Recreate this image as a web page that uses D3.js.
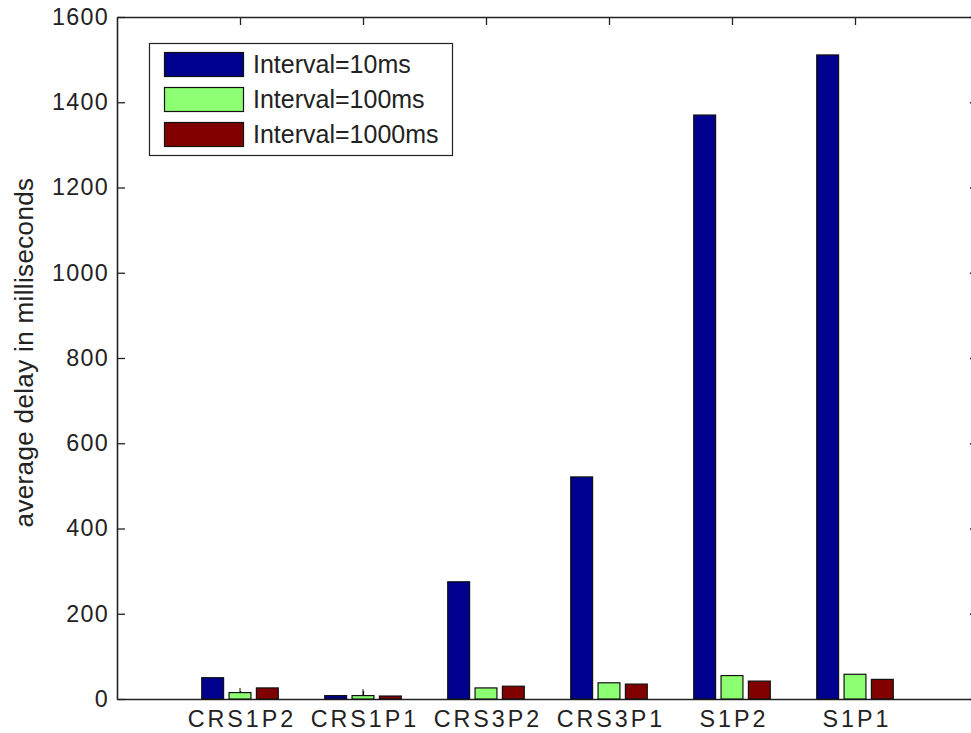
<!DOCTYPE html>
<html>
<head>
<meta charset="utf-8">
<script src="https://cdn.jsdelivr.net/npm/d3@7"></script>
<style>
  html, body { margin: 0; padding: 0; background: #fff; overflow: hidden; }
  svg { display: block; }
  text { font-family: "Liberation Sans", Arial, Helvetica, sans-serif; fill: #222; }
</style>
</head>
<body>
<svg id="chart" width="971" height="733"></svg>
<script>
// ---- data ----
const categories = ["CRS1P2", "CRS1P1", "CRS3P2", "CRS3P1", "S1P2", "S1P1"];
const seriesNames = ["Interval=10ms", "Interval=100ms", "Interval=1000ms"];
const interval10ms = [50, 8, 275, 521, 1370, 1511];
const interval100ms = [15, 8, 26, 38, 55, 58];
const interval1000ms = [26, 7, 30, 35, 42, 46];
const interval100msErrTop = [26, 23, null, null, null, null];
const yTicks = [0, 200, 400, 600, 800, 1000, 1200, 1400, 1600];
const seriesColors = ["#00008f", "#8cff73", "#800000"];
const yLabel = "average delay in milliseconds";

const seriesValues = [interval10ms, interval100ms, interval1000ms];

// ---- layout ----
const svg = d3.select("#chart");
const mLeft = 117, mRight = 978, mTop = 17, mBottom = 699;

const x = d3.scaleLinear().domain([0, categories.length + 1]).range([mLeft, mRight]);
const y = d3.scaleLinear().domain([0, 1600]).range([mBottom, mTop]);

const step = 2 / 9;          // group offset per series (axis units)
const barW = 0.8 * step;     // bar width (axis units)

// axes (drawn first so bars cover the inward ticks at the bottom)
const tickIdx = categories.map((c, i) => i + 1);
const xAxisBottom = d3.axisBottom(x).tickValues(tickIdx)
  .tickFormat((d) => categories[d - 1]).tickSizeInner(-8).tickSizeOuter(0).tickPadding(11);
const xAxisTop = d3.axisTop(x).tickValues(tickIdx).tickFormat("").tickSizeInner(-8).tickSizeOuter(0);
const yAxisLeft = d3.axisLeft(y).tickValues(yTicks).tickFormat(d3.format("d"))
  .tickSizeInner(-8).tickSizeOuter(0).tickPadding(8);
const yAxisRight = d3.axisRight(y).tickValues(yTicks).tickFormat("").tickSizeInner(-8).tickSizeOuter(0);

function styleAxis(g) {
  g.select(".domain").attr("stroke", "#222").attr("stroke-width", 1.6);
  g.selectAll(".tick line").attr("stroke", "#222").attr("stroke-width", 1.3);
  g.selectAll(".tick text").attr("fill", "#222")
    .attr("font-family", "\"Liberation Sans\", Arial, sans-serif");
}

svg.append("g").attr("transform", `translate(0,${mBottom})`).call(xAxisBottom).call(styleAxis)
  .selectAll(".tick text").attr("font-size", 23.3).attr("letter-spacing", 3).attr("dx", 1.5);
svg.append("g").attr("transform", `translate(0,${mTop})`).call(xAxisTop).call(styleAxis);
svg.append("g").attr("transform", `translate(${mLeft},0)`).call(yAxisLeft).call(styleAxis)
  .selectAll(".tick text").attr("font-size", 23.3).attr("letter-spacing", 1.3);
svg.append("g").attr("transform", `translate(${mRight},0)`).call(yAxisRight).call(styleAxis);

// bars
seriesValues.forEach((vals, s) => {
  svg.append("g").selectAll("rect")
    .data(vals)
    .join("rect")
    .attr("x", (d, i) => x(i + 1 + (s - 1) * step - barW / 2))
    .attr("y", d => y(d))
    .attr("width", x(barW) - x(0))
    .attr("height", d => y(0) - y(d))
    .attr("fill", seriesColors[s])
    .attr("stroke", "#111")
    .attr("stroke-width", 1.2);
});

// error bars on the 100ms series
svg.append("g").selectAll("line")
  .data(interval100msErrTop.map((e, i) => ({ e, i })).filter(d => d.e != null))
  .join("line")
  .attr("x1", d => x(d.i + 1))
  .attr("x2", d => x(d.i + 1))
  .attr("y1", d => y(interval100ms[d.i]))
  .attr("y2", d => y(d.e))
  .attr("stroke", "#111")
  .attr("stroke-width", 1);

// y label
svg.append("text")
  .attr("transform", `translate(33,${(mTop + mBottom) / 2 - 5.5}) rotate(-90)`)
  .attr("text-anchor", "middle")
  .attr("font-size", 26)
  .attr("letter-spacing", 0.35)
  .text(yLabel);

// legend
const lg = svg.append("g");
lg.append("rect").attr("x", 149.5).attr("y", 43.5).attr("width", 303).attr("height", 112)
  .attr("fill", "#fff").attr("stroke", "#222").attr("stroke-width", 1.2);
seriesNames.forEach((name, s) => {
  const yy = 52 + s * 35;
  lg.append("rect").attr("x", 164.5).attr("y", yy + 0.5).attr("width", 79).attr("height", 24)
    .attr("fill", seriesColors[s]).attr("stroke", "#111").attr("stroke-width", 1.2);
  lg.append("text").attr("x", 253).attr("y", yy + 21).attr("font-size", 25).text(name);
});
</script>
</body>
</html>
